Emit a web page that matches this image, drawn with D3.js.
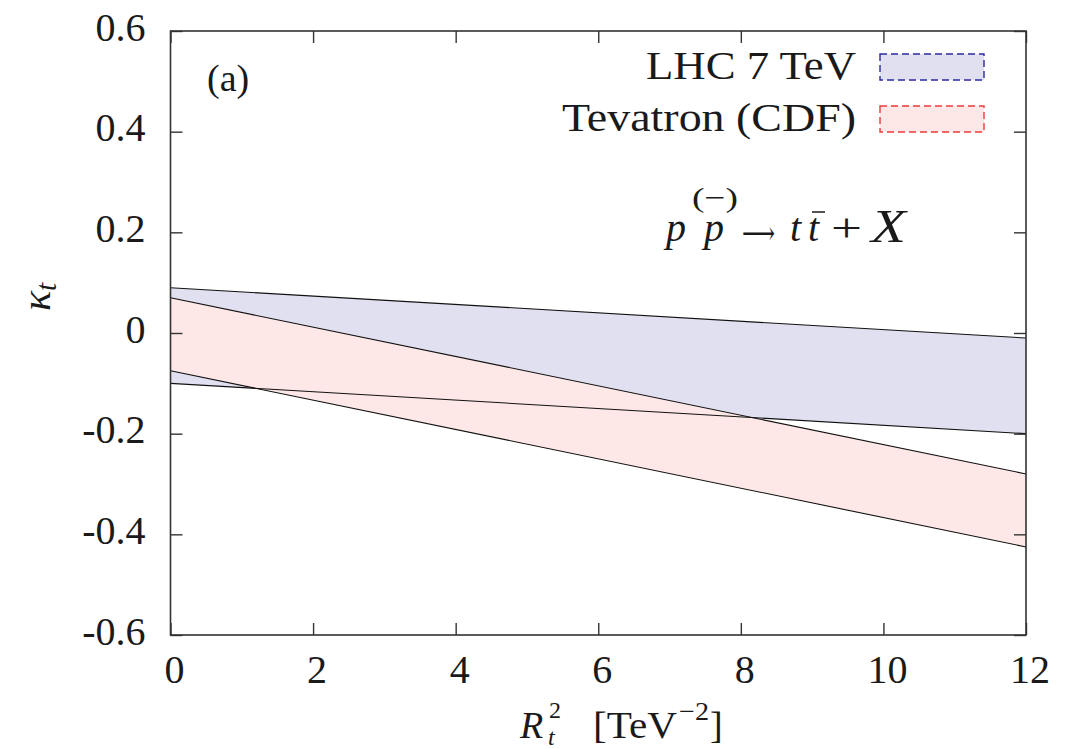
<!DOCTYPE html>
<html>
<head>
<meta charset="utf-8">
<script src="https://cdn.jsdelivr.net/npm/d3@7"></script>
<style>
  html, body { margin: 0; padding: 0; background: #fff; }
  svg { display: block; }
  text { font-family: "Liberation Serif", "DejaVu Serif", serif; fill: #1a1a1a; }
</style>
</head>
<body>
<svg id="chart" width="1083" height="749"></svg>
<script>
// R_t^2 range covered by the bands [TeV^-2]
const rt2 = [0, 12];
// Allowed kappa_t bands (upper / lower boundaries)
const lhcUpper = [0.09, -0.01];
const lhcLower = [-0.10, -0.20];
const cdfUpper = [0.07, -0.28];
const cdfLower = [-0.075, -0.425];

const xTicks = [0, 2, 4, 6, 8, 10, 12];
const yTicks = [-0.6, -0.4, -0.2, 0, 0.2, 0.4, 0.6];

const bands = [
  { name: "LHC 7 TeV", upper: lhcUpper, lower: lhcLower, fill: "#e0e0f0", edge: "#2a2aa0" },
  { name: "Tevatron (CDF)", upper: cdfUpper, lower: cdfLower, fill: "#fde7e7", edge: "#f03a3a" }
];

const svg = d3.select("#chart");
const margin = { left: 170.5, right: 1083 - 1026, top: 31, bottom: 749 - 635 };
const W = 1083, H = 749;

const x = d3.scaleLinear().domain([0, 12]).range([margin.left, W - margin.right]);
const y = d3.scaleLinear().domain([-0.6, 0.6]).range([H - margin.bottom, margin.top]);

// band fills
const pts = b => rt2.map((r, i) => ({ r, lo: b.lower[i], hi: b.upper[i] }));
const area = d3.area().x(d => x(d.r)).y0(d => y(d.lo)).y1(d => y(d.hi));
bands.forEach(b => {
  svg.append("path").datum(pts(b)).attr("d", area).attr("fill", b.fill);
});

// band boundaries
const line = d3.line().x(d => x(d[0])).y(d => y(d[1]));
bands.forEach(b => {
  [b.upper, b.lower].forEach(v => {
    svg.append("path")
      .datum(rt2.map((r, i) => [r, v[i]]))
      .attr("d", line)
      .attr("fill", "none")
      .attr("stroke", "#111")
      .attr("stroke-width", 1.1);
  });
});

// axes with inward ticks on all four sides
const tickLen = 12;
const frameColor = "#333";
const axB = svg.append("g").attr("transform", `translate(0,${y(-0.6)})`)
  .call(d3.axisBottom(x).tickValues(xTicks).tickSizeInner(-tickLen).tickSizeOuter(0).tickFormat(""));
const axT = svg.append("g").attr("transform", `translate(0,${y(0.6)})`)
  .call(d3.axisTop(x).tickValues(xTicks).tickSizeInner(-tickLen).tickSizeOuter(0).tickFormat(""));
const axL = svg.append("g").attr("transform", `translate(${x(0)},0)`)
  .call(d3.axisLeft(y).tickValues(yTicks).tickSizeInner(-tickLen).tickSizeOuter(0).tickFormat(""));
const axR = svg.append("g").attr("transform", `translate(${x(12)},0)`)
  .call(d3.axisRight(y).tickValues(yTicks).tickSizeInner(-tickLen).tickSizeOuter(0).tickFormat(""));
[axB, axT, axL, axR].forEach(a => {
  a.select(".domain").remove();
  a.selectAll(".tick line").attr("stroke", frameColor).attr("stroke-width", 1.4);
});
svg.append("rect")
  .attr("x", x(0)).attr("y", y(0.6))
  .attr("width", x(12) - x(0)).attr("height", y(-0.6) - y(0.6))
  .attr("fill", "none").attr("stroke", frameColor).attr("stroke-width", 1.6);

// tick labels
svg.append("g").selectAll("text").data(yTicks).join("text")
  .attr("x", x(0) - 25).attr("y", d => y(d) + 9.5)
  .attr("text-anchor", "end").attr("font-size", 40)
  .text(d => d === 0 ? "0" : d.toFixed(1));
svg.append("g").selectAll("text").data(xTicks).join("text")
  .attr("x", d => x(d) + 4).attr("y", y(-0.6) + 48)
  .attr("text-anchor", "middle").attr("font-size", 40)
  .text(d => d);

// axis titles
const yl = svg.append("text")
  .attr("transform", `translate(50,${297}) rotate(-90)`)
  .attr("text-anchor", "middle").attr("font-size", 42);
yl.append("tspan").attr("font-style", "italic").text("κ");
yl.append("tspan").attr("font-style", "italic").attr("font-size", 29).attr("dy", 6).text("t");

const xl = svg.append("g");
xl.append("text").attr("x", 520).attr("y", 738).attr("font-size", 38).attr("font-style", "italic").text("R");
xl.append("text").attr("x", 548).attr("y", 745).attr("font-size", 24).attr("font-style", "italic").text("t");
xl.append("text").attr("x", 549).attr("y", 718).attr("font-size", 24).text("2");
xl.append("text").attr("x", 593).attr("y", 738).attr("font-size", 38)
  .attr("textLength", 84).attr("lengthAdjust", "spacingAndGlyphs").text("[TeV");
xl.append("text").attr("x", 679).attr("y", 720).attr("font-size", 26)
  .attr("textLength", 30).attr("lengthAdjust", "spacingAndGlyphs").text("−2");
xl.append("text").attr("x", 710).attr("y", 738).attr("font-size", 38).text("]");

// panel tag
svg.append("text").attr("x", 207).attr("y", 91).attr("font-size", 38).text("(a)");

// process label: p (p-bar) -> t t-bar + X
const f = svg.append("g").attr("font-size", 40);
f.append("text").attr("x", 666).attr("y", 241).attr("font-style", "italic").text("p");
f.append("text").attr("x", 704).attr("y", 241).attr("font-style", "italic").text("p");
f.append("text").attr("x", 692).attr("y", 207).attr("font-size", 28)
  .attr("textLength", 46).attr("lengthAdjust", "spacingAndGlyphs").text("(−)");
f.append("text").attr("x", 742).attr("y", 244).attr("font-family", "DejaVu Sans")
  .attr("font-size", 32).attr("textLength", 33).attr("lengthAdjust", "spacingAndGlyphs").text("⟶");
f.append("text").attr("x", 790).attr("y", 241).attr("font-style", "italic").text("t");
f.append("text").attr("x", 808).attr("y", 241).attr("font-style", "italic").text("t");
f.append("line").attr("x1", 812).attr("x2", 825).attr("y1", 212).attr("y2", 212)
  .attr("stroke", "#1a1a1a").attr("stroke-width", 1.5);
f.append("text").attr("x", 831).attr("y", 241)
  .attr("textLength", 31).attr("lengthAdjust", "spacingAndGlyphs").text("+");
f.append("text").attr("x", 871).attr("y", 242).attr("font-style", "italic").attr("font-size", 46)
  .attr("textLength", 35).attr("lengthAdjust", "spacingAndGlyphs").text("X");

// legend
const legY = [79, 131];
const legW = [210, 294];
bands.forEach((b, i) => {
  svg.append("text")
    .attr("x", 856).attr("y", legY[i])
    .attr("text-anchor", "end").attr("font-size", 40)
    .attr("textLength", legW[i]).attr("lengthAdjust", "spacingAndGlyphs")
    .text(b.name);
  svg.append("rect")
    .attr("x", 880).attr("y", legY[i] - 25)
    .attr("width", 104).attr("height", 26)
    .attr("fill", b.fill).attr("stroke", b.edge)
    .attr("stroke-width", 1.4).attr("stroke-dasharray", "7,4");
});
</script>
</body>
</html>
